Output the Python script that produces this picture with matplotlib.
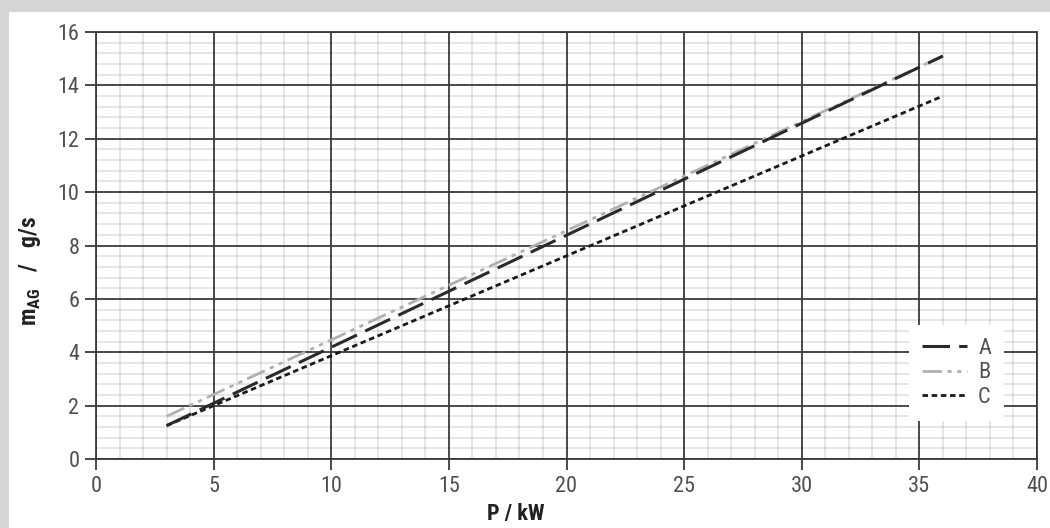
import numpy as np
import matplotlib.pyplot as plt
from matplotlib.patches import Rectangle

# Data
P = [3, 36]
m_A = [1.25, 15.1]
m_B = [1.6, 15.1]
m_C = [1.25, 13.6]

plt.rcParams['font.family'] = ['Roboto Condensed', 'DejaVu Sans']
plt.rcParams['mathtext.fontset'] = 'custom'
plt.rcParams['mathtext.rm'] = 'Roboto Condensed'
plt.rcParams['mathtext.bf'] = 'Roboto Condensed:bold'

fig = plt.figure(figsize=(10.5, 5.28), dpi=100, facecolor='#d4d5d7')
fig.patches.append(Rectangle((9/1050, 0), 1, 516/528, transform=fig.transFigure,
                             facecolor='white', edgecolor='none', zorder=-10))
ax = fig.add_axes([96/1050, 1 - 459/528, 941/1050, 427/528])
ax.set_facecolor('white')

ax.plot(P, m_A, color='#2a2a2a', lw=2.2, dashes=(9, 3), label='A', zorder=4)
ax.plot(P, m_B, color='#b0b0b0', lw=2.0, dashes=(7, 2, 1.5, 2, 1.5, 2), label='B', zorder=3)
ax.plot(P, m_C, color='#1a1a1a', lw=2.0, dashes=(2, 1.3), label='C', zorder=3)

ax.set_xlim(0, 40)
ax.set_ylim(0, 16)
ax.set_xticks(np.arange(0, 41, 5))
ax.set_yticks(np.arange(0, 17, 2))
ax.set_xticks([i for i in range(41) if i % 5], minor=True)
ax.set_yticks([i * 0.4 for i in range(41) if i % 5], minor=True)
ax.grid(which='major', color='#3a3a3a', lw=1.3)
ax.grid(which='minor', color='black', alpha=0.1, lw=1.4)
ax.set_axisbelow(True)
for s in ax.spines.values():
    s.set_color('#3a3a3a')
    s.set_linewidth(1.3)
ax.tick_params(which='major', length=8, width=1.3, color='#3a3a3a',
               labelsize=16, labelcolor='#505050', pad=4)
ax.tick_params(which='minor', length=0)

ax.set_xlabel('P / kW', fontsize=16, fontweight='bold', color='#222222')
ax.xaxis.set_label_coords(0.446, -0.102)
ax.set_ylabel(r'm$_{\mathbf{AG}}$   /   g/s', fontsize=17, fontweight='bold', color='#222222')
ax.yaxis.set_label_coords(-0.056, 0.44)

leg = ax.legend(loc='lower right', bbox_to_anchor=(0.977, 0.063), frameon=True, fontsize=16,
                handlelength=2.0, handletextpad=0.5, labelspacing=0.15, borderpad=0.6)
leg.get_frame().set_facecolor('white')
leg.get_frame().set_edgecolor('none')
leg.get_frame().set_alpha(1)
leg.get_frame().set_boxstyle('square', pad=0)
for t in leg.get_texts():
    t.set_color('#505050')

plt.savefig('out.png', dpi=100, facecolor=fig.get_facecolor())
